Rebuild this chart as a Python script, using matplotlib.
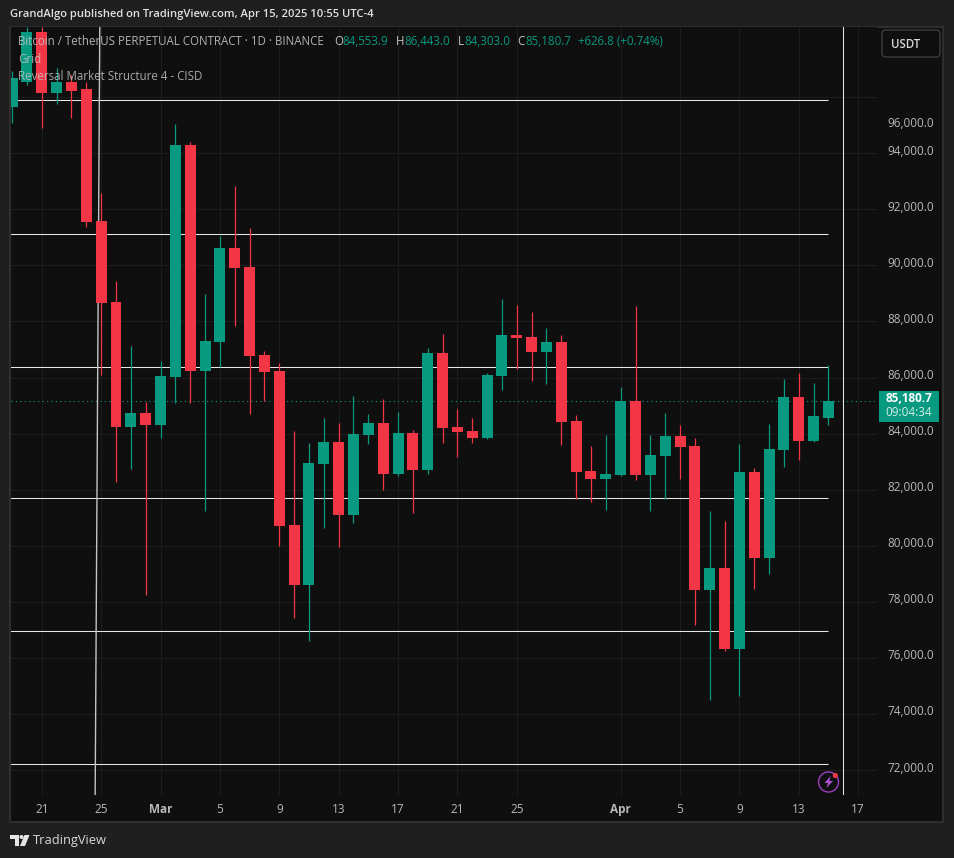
import pandas as pd
import matplotlib
matplotlib.use("Agg")
import matplotlib.pyplot as plt
import matplotlib.dates as mdates
from matplotlib.patches import Rectangle, Circle, FancyBboxPatch, Polygon

# daily candles, Feb 19 to Apr 15
dates = pd.date_range("2025-02-19", "2025-04-15", freq="D")
opens = [95650, 96530, 98310, 96150, 96560, 96280, 91570, 88680, 84230, 84730,
         84300, 86010, 94280, 86220, 87260, 90620, 89940, 86800, 86220, 80730,
         78600, 82910, 83690, 81090, 83940, 84370, 82550, 84010, 82700, 86870,
         84230, 84090, 83840, 86050, 87510, 87440, 86900, 87260, 84440, 82660, 82370,
         82520, 85160, 82520, 83190, 83910, 83550, 78420, 79200, 76310, 82620,
         79560, 83410, 85300, 83730, 84553.9]
closes = [96670, 98310, 96150, 96560, 96240, 91550, 88660, 84240, 84730, 84300,
          86050, 94280, 86220, 87290, 90620, 89910, 86760, 86190, 80700, 78600,
          82940, 83690, 81090, 83980, 84370, 82550, 84010, 82700, 86870, 84190,
          84050, 83840, 86080, 87510, 87400, 86900, 87260, 84410, 82620, 82370, 82550,
          85160, 82520, 83230, 83910, 83520, 78420, 79200, 76310, 82620, 79560,
          83440, 85300, 83730, 84620, 85180.7]
highs = [96930, 98490, 98490, 97030, 96780, 96530, 92570, 89440, 87120, 85120,
         86580, 95030, 94420, 88970, 91050, 92820, 91320, 86940, 86510, 84090,
         83660, 84550, 84370, 85330, 84690, 85230, 84760, 84120, 87040, 87540,
         84870, 84550, 86150, 88790, 88580, 88330, 87760, 87510, 84660, 83550, 83940,
         85650, 88540, 83940, 84730, 84300, 83840, 81230, 80880, 83620, 82770,
         84340, 85940, 86150, 85800, 86443]
lows = [95080, 96420, 94900, 95750, 95250, 91370, 86080, 82280, 82730, 78240,
        83850, 85080, 85080, 81230, 86370, 87830, 84690, 85160, 79990, 77420,
        76600, 80630, 79950, 80810, 83620, 81980, 82480, 81160, 82550, 83660,
        83160, 83660, 83800, 85550, 86300, 85870, 85760, 83590, 81660, 81550, 81270,
        82480, 82340, 81230, 81660, 82370, 77170, 74500, 76240, 74640, 78450,
        78990, 82800, 83050, 83690, 84303]
levels = [95890, 91130, 86390, 81690, 76960, 72200]
price_grid = [72000, 74000, 76000, 78000, 80000, 82000, 84000, 86000, 88000, 90000, 92000, 94000, 96000]
price_labels = [72000, 74000, 76000, 78000, 80000, 82000, 84000, 86000, 88000, 90000, 92000, 94000, 95000]
time_ticks = ["2025-02-21", "2025-02-25", "2025-03-01", "2025-03-05", "2025-03-09", "2025-03-13", "2025-03-17",
              "2025-03-21", "2025-03-25", "2025-04-01", "2025-04-05", "2025-04-09", "2025-04-13", "2025-04-17"]
time_labels = ["21", "25", "Mar", "5", "9", "13", "17", "21", "25", "Apr", "5", "9", "13", "17"]
last_price = 85180.7

UP = "#089981"
DOWN = "#f23645"
TXT = "#b8b8b8"
LEG = "#c4c4c4"
W, H = 954, 858
plt.rcParams["font.family"] = ["Open Sans", "DejaVu Sans"]

fig = plt.figure(figsize=((W + 0.01) / 100, (H + 0.01) / 100), dpi=100, facecolor="#1f1f1f")

# px overlay for the page furniture
deco = fig.add_axes([0, 0, 1, 1], zorder=0)
deco.set_xlim(0, W)
deco.set_ylim(H, 0)
deco.axis("off")
deco.add_patch(Rectangle((10, 27), 933, 795, fc="#0f0f0f", ec="#2e2e2e", lw=1.5))
deco.text(10, 14.5, "GrandAlgo published on TradingView.com, Apr 15, 2025 10:55 UTC-4", color="#e0e0e0",
          fontsize=8.15, fontweight="semibold", va="center")

ax = fig.add_axes([10.5 / W, 1 - 795 / H, 866.5 / W, 767.5 / H], zorder=1)
ax.set_facecolor("#0f0f0f")
for s in ax.spines.values():
    s.set_visible(False)
d0 = mdates.date2num(pd.Timestamp("2025-02-21"))
ax.set_xlim(d0 - 2.108, d0 + 56.27)
ax.set_ylim(71109, 98488)

ax.set_yticks(price_grid)
ax.set_yticklabels([])
ax.set_xticks(mdates.date2num(pd.to_datetime(time_ticks)))
ax.set_xticklabels(time_labels)
ax.tick_params(length=0, axis="both")
ax.tick_params(axis="x", colors=TXT, labelsize=8.5, pad=6)
ax.grid(True, color="#1d1d1d", lw=0.8)
ax.set_axisbelow(True)
for lab in ax.get_xticklabels():
    if lab.get_text() in ("Mar", "Apr"):
        lab.set_fontweight("bold")

for v, txt in zip(price_labels, price_grid):
    ax.annotate(f"{txt:,.1f}", xy=(1, v), xycoords=ax.get_yaxis_transform(), xytext=(10, 2),
                textcoords="offset pixels", color=TXT, fontsize=8.5, va="center", ha="left", annotation_clip=False)

# candles
xs = mdates.date2num(dates)
cols = [UP if c >= o else DOWN for o, c in zip(opens, closes)]
ax.vlines(xs, lows, highs, colors=cols, lw=0.9, zorder=3)
body_low = [min(o, c) for o, c in zip(opens, closes)]
body_h = [abs(c - o) for o, c in zip(opens, closes)]
ax.bar(xs, body_h, bottom=body_low, width=0.74, color=cols, lw=0, zorder=4)

# white levels stop at the last bar
ax.hlines(levels, xs[0] - 3, xs[-1], colors="#e8e8e8", lw=0.75, zorder=2)
ax.axhline(last_price, color=UP, lw=0.8, ls=(0, (1, 3)), zorder=2)
ax.axvline(xs[-1] + 1, color="#e8e8e8", lw=0.75, zorder=2)
ax.plot([d0 + 3.906, d0 + 3.596], [98488, 71109], color="#c4c4c4", lw=1, zorder=2)

# legend text sits on top of the candles
over = fig.add_axes([0, 0, 1, 1], zorder=2)
over.set_xlim(0, W)
over.set_ylim(H, 0)
over.axis("off")
over.patch.set_alpha(0)
over.text(18, 41.5, "Bitcoin / TetherUS PERPETUAL CONTRACT · 1D · BINANCE", color=LEG, fontsize=8.3, va="center", alpha=0.9)
over.text(18, 59, "Grid", color=LEG, fontsize=8.3, va="center", alpha=0.85)
over.text(18, 76, "Reversal Market Structure 4 - CISD", color=LEG, fontsize=8.3, va="center", alpha=0.85)
for x, s, c in [(334, "O", LEG), (342, "84,553.9", UP), (396, "H", LEG), (404, "86,443.0", UP),
                (458, "L", LEG), (464, "84,303.0", UP), (517, "C", LEG), (525, "85,180.7", UP),
                (578, "+626.8 (+0.74%)", UP)]:
    over.text(x, 41.5, s, color=c, fontsize=8.3, va="center")

over.add_patch(FancyBboxPatch((882, 30), 58, 27, boxstyle="round,pad=0,rounding_size=4", fc="#0f0f0f", ec="#3c3c3c", lw=1))
over.text(891, 44, "USDT", color="#d8d8d8", fontsize=8.3, fontweight="semibold", ha="left", va="center")

over.add_patch(Rectangle((879, 391), 60, 31, fc=UP, ec="none"))
over.text(909, 398.5, "85,180.7", color="white", fontsize=8.5, fontweight="bold", ha="center", va="center")
over.text(909, 412.5, "09:04:34", color="#d5efe9", fontsize=8.5, ha="center", va="center")

# lightning badge
over.add_patch(Circle((828.5, 782), 10, fc="none", ec="#9c3fc0", lw=1))
over.add_patch(Polygon([(830.5, 776), (824.5, 783), (828, 783), (826.5, 788), (833, 781), (829.5, 781)], fc="#a94fd0", ec="none"))
over.add_patch(Circle((835.3, 775.5), 2.6, fc=DOWN, ec="none"))

# footer logo
over.add_patch(Polygon([(10, 835), (19, 835), (19, 846), (15, 846), (15, 839), (10, 839)], fc="#e6e6e6", ec="none"))
over.add_patch(Circle((21.5, 837), 2, fc="#e6e6e6", ec="none"))
over.add_patch(Polygon([(24.5, 835), (29.5, 835), (25, 846), (20, 846)], fc="#e6e6e6", ec="none"))
over.text(33, 840.5, "TradingView", color="#d8d8d8", fontsize=9.3, va="center")

fig.savefig("out.png", dpi=100, facecolor=fig.get_facecolor())
